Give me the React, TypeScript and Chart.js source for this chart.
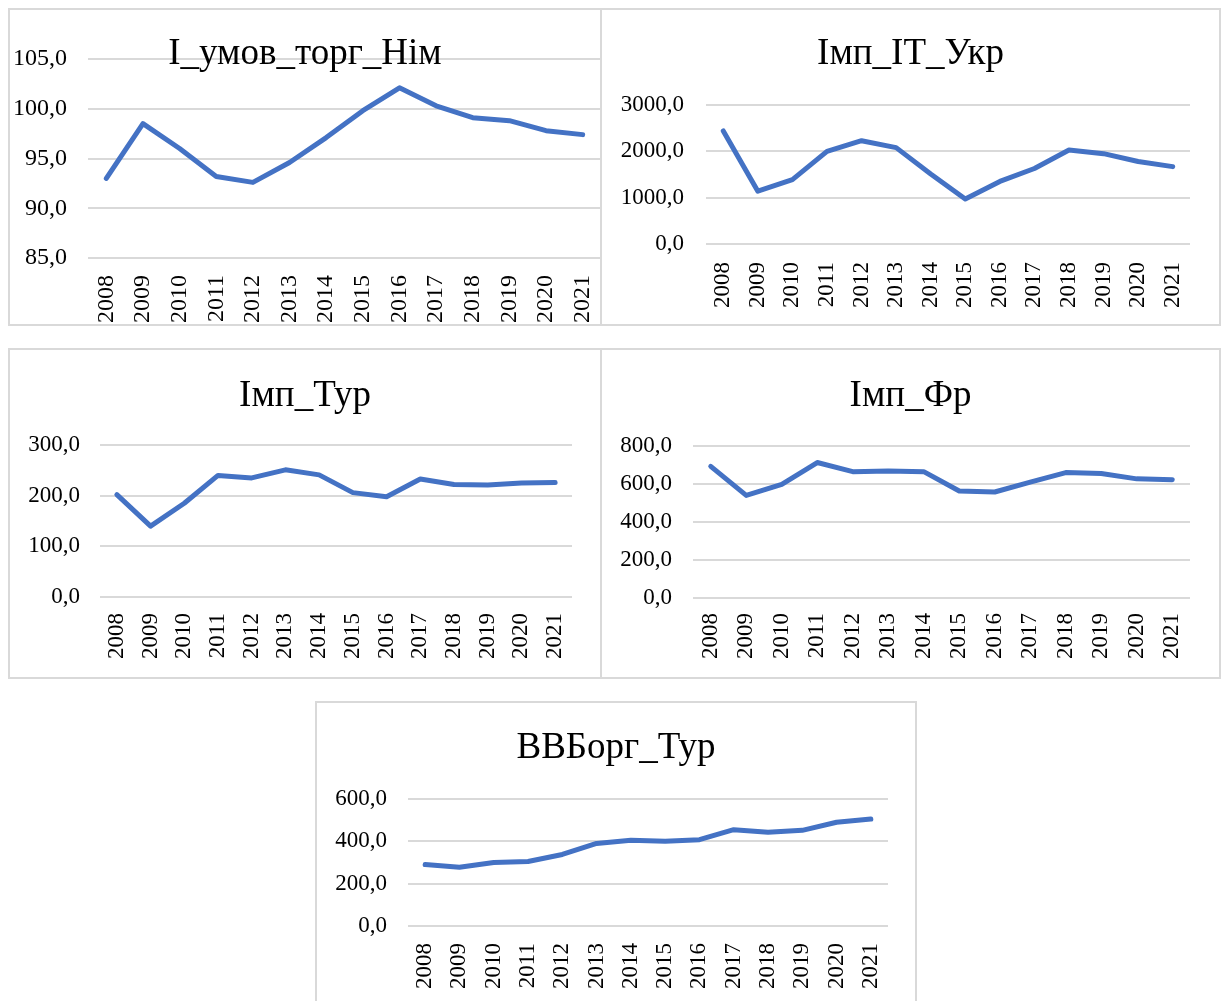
import React, { useEffect, useRef } from "react";
import { Chart, registerables } from "chart.js";

Chart.register(...registerables);

const years = ["2008","2009","2010","2011","2012","2013","2014","2015","2016","2017","2018","2019","2020","2021"];

const umovTorgNim = [93.0, 98.5, 96.0, 93.2, 92.6, 94.6, 97.1, 99.8, 102.1, 100.3, 99.1, 98.8, 97.8, 97.4];
const impItUkr = [2440, 1140, 1390, 2000, 2230, 2080, 1510, 970, 1350, 1630, 2030, 1950, 1780, 1670];
const impTur = [202, 140, 185, 240, 235, 251, 241, 206, 198, 233, 222, 221, 225, 226];
const impFr = [693, 540, 598, 713, 665, 668, 665, 563, 558, 610, 660, 655, 627, 623];
const vvborgTur = [290, 278, 300, 305, 338, 390, 405, 400, 408, 455, 443, 452, 490, 505];

const titles = ["І_умов_торг_Нім", "Імп_ІТ_Укр", "Імп_Тур", "Імп_Фр", "ВВБорг_Тур"];

const FONT = '"Liberation Serif", "Times New Roman", serif';
const LINE = "#4472C4";
const GRID = "#d9d9d9";

type PanelProps = {
  left: number; top: number; width: number; height: number;
  title: string; titleY: number;
  data: number[]; min: number; max: number; step: number;
  plotLeft: number; plotRight: number; plotTop: number; plotBottom: number;
  yPad: number; xPad: number; tickSize: number; titleSize: number;
};

function Panel(p: PanelProps) {
  const ref = useRef<HTMLCanvasElement | null>(null);
  useEffect(() => {
    if (!ref.current) return;
    const cw = p.width - 2;
    const ch = p.height - 2;
    const titlePlugin = {
      id: "panelTitle",
      afterDraw(chart: any) {
        const ctx = chart.ctx;
        ctx.save();
        ctx.font = `${p.titleSize}px ${FONT}`;
        ctx.fillStyle = "#000";
        ctx.textAlign = "center";
        ctx.textBaseline = "alphabetic";
        ctx.fillText(p.title, cw / 2, p.titleY);
        ctx.restore();
      },
    };
    const chart = new Chart(ref.current, {
      type: "line",
      data: {
        labels: years,
        datasets: [{
          data: p.data,
          borderColor: LINE,
          backgroundColor: LINE,
          borderWidth: 5,
          pointRadius: 0,
          tension: 0,
          borderCapStyle: "round",
          borderJoinStyle: "round",
        }],
      },
      options: {
        responsive: false,
        animation: false,
        devicePixelRatio: 1,
        layout: { padding: { left: 0, top: p.plotTop, right: cw - p.plotRight, bottom: 0 } },
        plugins: { legend: { display: false }, title: { display: false }, tooltip: { enabled: false } },
        scales: {
          x: {
            offset: true,
            grid: { display: false, drawTicks: false },
            border: { display: false },
            ticks: {
              autoSkip: false, minRotation: 90, maxRotation: 90, padding: p.xPad,
              color: "#000", font: { family: FONT, size: p.tickSize },
            },
            afterFit: (s: any) => {
              s.height = ch - p.plotBottom;
              s.paddingLeft = 0;
              s.paddingRight = 0;
            },
          },
          y: {
            min: p.min, max: p.max,
            grid: { color: GRID, lineWidth: 2, drawTicks: false },
            border: { display: false },
            ticks: {
              stepSize: p.step, padding: p.yPad, color: "#000",
              font: { family: FONT, size: p.tickSize },
              callback: (v: any) => Number(v).toFixed(1).replace(".", ","),
            },
            afterFit: (s: any) => { s.width = p.plotLeft; s.paddingTop = 0; s.paddingBottom = 0; },
          },
        },
      },
      plugins: [titlePlugin],
    } as any);
    return () => chart.destroy();
  }, []);
  return (
    <div style={{ position: "absolute", left: p.left, top: p.top, width: p.width, height: p.height, boxSizing: "border-box", border: `2px solid ${GRID}`, background: "#fff" }}>
      <canvas ref={ref} width={p.width - 2} height={p.height - 2} style={{ position: "absolute", left: -1, top: -1, width: p.width - 2, height: p.height - 2 }} />
    </div>
  );
}

export default function App() {
  return (
    <div style={{ position: "absolute", left: 0, top: 0, width: 1221, height: 1001, background: "#fff", overflow: "hidden" }}>
      <Panel left={8} top={8} width={594} height={318} title={titles[0]} titleY={55}
        data={umovTorgNim} min={85} max={105} step={5}
        plotLeft={79} plotRight={592} plotTop={50} plotBottom={249} yPad={21} xPad={17} tickSize={24} titleSize={37} />
      <Panel left={600} top={8} width={621} height={318} title={titles[1]} titleY={55}
        data={impItUkr} min={0} max={3000} step={1000}
        plotLeft={105} plotRight={589} plotTop={96} plotBottom={235} yPad={22} xPad={18} tickSize={23} titleSize={37} />
      <Panel left={8} top={348} width={594} height={331} title={titles[2]} titleY={57}
        data={impTur} min={0} max={300} step={100}
        plotLeft={91} plotRight={563} plotTop={96} plotBottom={248} yPad={20} xPad={16} tickSize={23} titleSize={37} />
      <Panel left={600} top={348} width={621} height={331} title={titles[3]} titleY={57}
        data={impFr} min={0} max={800} step={200}
        plotLeft={92} plotRight={589} plotTop={97} plotBottom={249} yPad={21} xPad={15} tickSize={23} titleSize={37} />
      <Panel left={315} top={701} width={602} height={310} title={titles[4]} titleY={56}
        data={vvborgTur} min={0} max={600} step={200}
        plotLeft={92} plotRight={572} plotTop={97} plotBottom={224} yPad={21} xPad={17} tickSize={23} titleSize={37} />
    </div>
  );
}
